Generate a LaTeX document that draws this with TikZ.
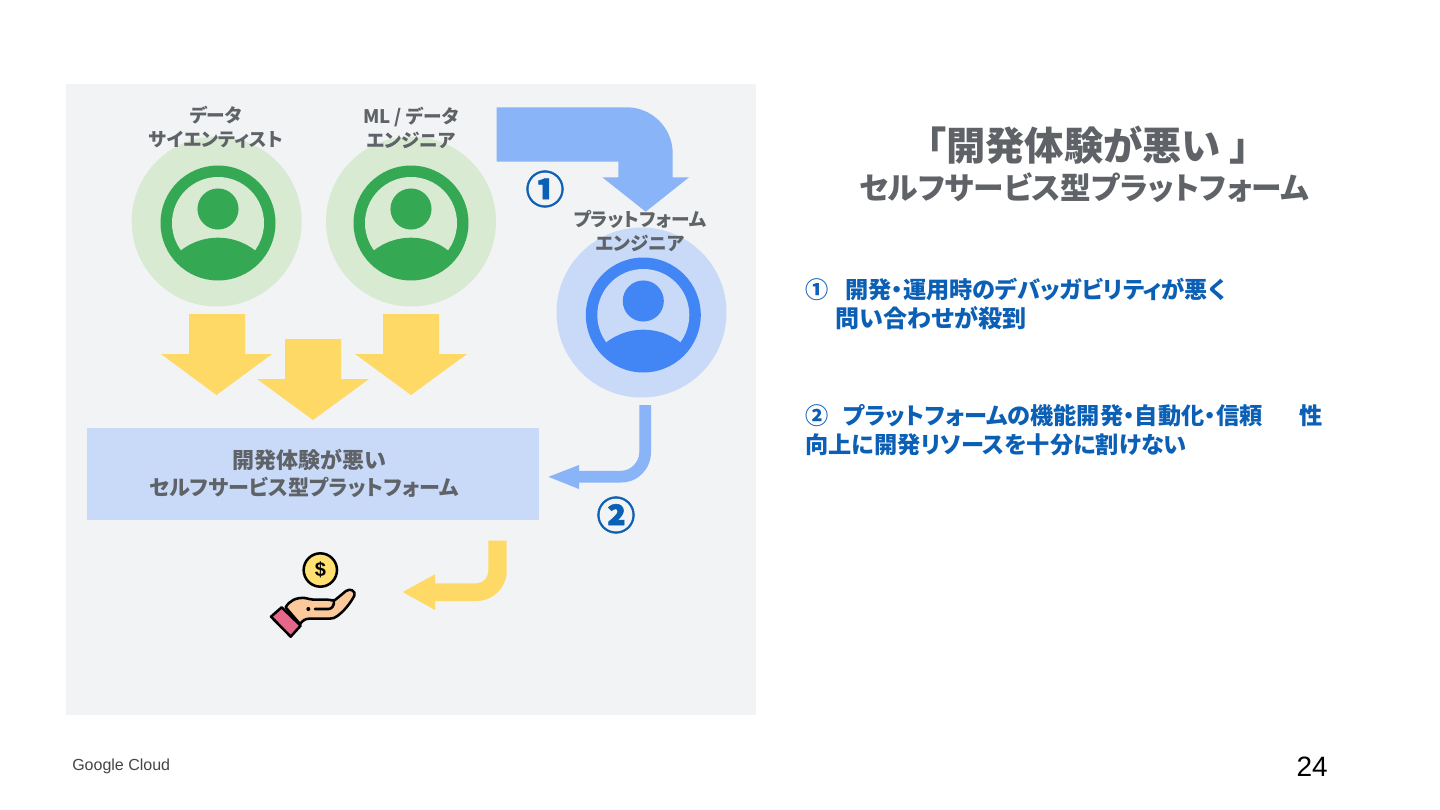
\documentclass[tikz,border=0pt]{standalone}
\usepackage{fontspec}
\setmainfont{Liberation Sans}
\newfontfamily\jp[RawFeature=+palt]{Noto Sans CJK JP}
\newfontfamily\jpnum[FakeBold=1.5]{Noto Sans CJK JP}
\newcommand{\fs}[2]{\fontsize{#1}{#2}\selectfont}
\definecolor{panel}{HTML}{F1F3F4}
\definecolor{lightgreen}{HTML}{D9EAD3}
\definecolor{gbrand}{HTML}{34A853}
\definecolor{lightblue}{HTML}{C9DAF8}
\definecolor{bbrand}{HTML}{4285F4}
\definecolor{arrowblue}{HTML}{8AB4F8}
\definecolor{arrowyellow}{HTML}{FFD966}
\definecolor{txtgray}{HTML}{5F6368}
\definecolor{txtblue}{HTML}{0B5FB5}
\definecolor{coin}{HTML}{FFE070}
\definecolor{peach}{HTML}{FBC99B}
\definecolor{cuff}{HTML}{E5688A}
\tikzset{
  x=0.75pt,y=-0.75pt,
  role/.style={font=\jp\bfseries\fs{14}{18},text=txtgray,align=center,inner sep=0},
  num/.style={font=\jpnum\bfseries\fs{29}{29},text=txtblue,inner sep=0},
  body/.style={font=\jp\bfseries\fs{17.4}{21.8},text=txtblue,align=left,anchor=north west,inner sep=0},
  yarrow/.style={fill=arrowyellow,draw=none},
  barrow/.style={fill=arrowblue,draw=none},
  handline/.style={draw=black,line width=1.9pt,line join=round,line cap=round},
}
\newcommand{\personicon}[4]{% disc colour, ring colour, x, y
  \fill[#2] (#3,#4) circle[radius=43.125pt];
  \fill[#1] (#3,#4) circle[radius=34.5pt];
  \fill[#2] (#3,#4-14) circle[radius=15.4pt];
  \begin{scope}
    \clip (#3,#4) circle[radius=37pt];
    \fill[#2] (#3,#4+75.3) circle[radius=45.45pt];
  \end{scope}
}
\begin{document}
\begin{tikzpicture}
\useasboundingbox (0,0) rectangle (1440,810);
\fill[white] (0,0) rectangle (1440,810);
\fill[panel] (66,84) rectangle (756,715);

% person discs
\fill[lightgreen] (216.7,221.5) circle[radius=63.75pt];
\fill[lightgreen] (411,221.5) circle[radius=63.75pt];
\fill[lightblue] (641.5,312.5) circle[radius=63.75pt];
\personicon{lightgreen}{gbrand}{218}{223}
\personicon{lightgreen}{gbrand}{411}{223}
\personicon{lightblue}{bbrand}{643.3}{315}

% role labels
\node[role] (ds) at (216,127.5) {データ\\サイエンティスト};
\node[role] (ml) at (411,127.5) {ML / データ\\エンジニア};
\node[role] (pe) at (640,231.5) {プラットフォーム\\エンジニア};

% block arrow 1
\fill[barrow] (496.7,107.3) -- (626.7,107.3)
  .. controls (652,107.3) and (672.7,128) .. (672.7,153.3) -- (672.7,177.3) -- (689,177.3)
  -- (645.7,211.7) -- (602.3,177.3) -- (618.3,177.3) -- (618.3,161.7) -- (496.7,161.7) -- cycle;

% yellow arrows
\fill[yarrow] (189,314) -- (245,314) -- (245,354) -- (272,354) -- (216.5,395) -- (161,354) -- (189,354) -- cycle;
\fill[yarrow] (285,339) -- (341,339) -- (341,379) -- (369,379) -- (313,420) -- (257,379) -- (285,379) -- cycle;
\fill[yarrow] (383,314) -- (439,314) -- (439,354) -- (467,354) -- (411,395) -- (355,354) -- (383,354) -- cycle;

% platform box
\node[fill=lightblue,minimum width=339.5pt,minimum height=69pt,inner sep=0,anchor=north west,
  font=\jp\bfseries\fs{16.5}{20},text=txtgray,align=center] (plat) at (86.5,427.3)
  {開発体験が悪い\hspace*{5.2pt}\\{\fs{15.8}{20}セルフサービス型プラットフォーム}\hspace*{13.5pt}};

% block arrow 2
\fill[barrow] (639.3,405) -- (651,405) -- (651,452)
  .. controls (651,469) and (638,482.5) .. (621,482.5) -- (579,482.5) -- (579,489) -- (548.5,476.8) -- (579,465) -- (579,470.8)
  -- (621,470.8) .. controls (631,470.8) and (639.3,462) .. (639.3,452) -- cycle;

% block arrow 3
\fill[yarrow] (488.3,540.7) -- (506.7,540.7) -- (506.7,571)
  .. controls (506.7,587.5) and (493,601) .. (476.7,601) -- (435,601) -- (435,610) -- (402.7,592) -- (435,574.3) -- (435,583.3)
  -- (476.3,583.3) .. controls (483,583.3) and (488.3,578) .. (488.3,571) -- cycle;

% circled numbers
\node[num] (n1) at (545,189) {①};
\node[num] (n2) at (616,515) {②};

% hand and coin
\begin{scope}[shift={(250,530)},x=0.25pt,y=-0.25pt]
  \node[circle,draw=black,line width=1.9pt,fill=coin,minimum size=25pt,inner sep=0,font=\bfseries\fs{15}{15}] (coinnode) at (211,120) {\$};
  \path[handline,fill=peach] (107,232) .. controls (118,212) and (138,202) .. (165,204) .. controls (175,205) and (180,209) .. (190,209)
    -- (232,209) .. controls (245,209) and (250,215) .. (255,210) -- (288,183)
    .. controls (300,174) and (318,182) .. (313,197)
    .. controls (300,222) and (280,245) .. (262,258) .. controls (254,264) and (248,266) .. (238,266)
    -- (178,266) .. controls (165,266) and (158,272) .. (150,282) -- cycle;
  \path[handline,fill=cuff] (63,260) -- (95,232) -- (152,287) -- (122,320) -- cycle;
  \draw[handline] (195,237) -- (235,237) .. controls (245,237) and (252,228) .. (252,215);
  \fill (175,237) circle[radius=1.5pt];
\end{scope}

% right column
\node[font=\jp\bfseries\fs{29.5}{30},text=txtgray,inner sep=0] (t1) at (1088,145) {「開発体験が悪い 」};
\node[font=\jp\bfseries\fs{23}{26},text=txtgray,inner sep=0] (t2) at (1084,188) {セルフサービス型プラットフォーム};

\node[body] (b1) at (805,278) {①\hspace{12.5pt}開発・運用時のデバッガビリティが悪く\\\hspace{23pt}{\fs{18}{21.8}問い合わせが殺到}};
\node[body] (b2) at (805,404) {②\hspace{11pt}プラットフォームの機能開発・自動化・信頼\hspace{28pt}性\\向上に開発リソースを十分に割けない};

% footer
\node[font=\fs{12}{14},text=txtgray!70!black,anchor=west,inner sep=0] (gc) at (72,766) {Google Cloud};
\node[font=\fs{21}{24},text=black,anchor=east,inner sep=0] (pg) at (1328,767) {24};
\end{tikzpicture}
\end{document}
